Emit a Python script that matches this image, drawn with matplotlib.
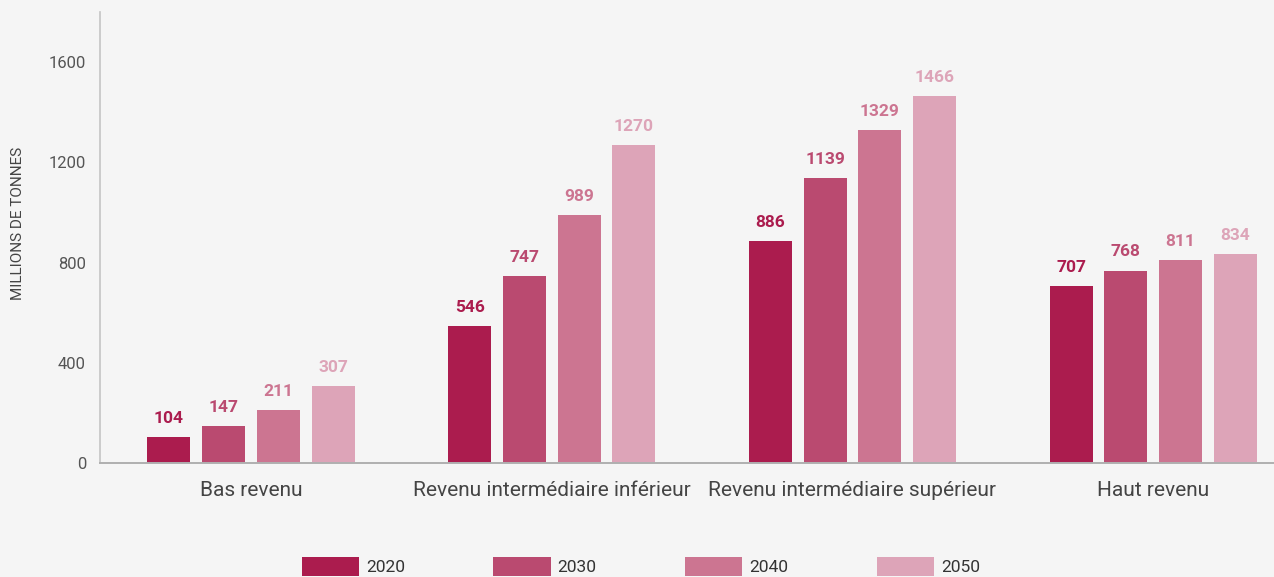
import matplotlib
matplotlib.use('Agg')
import matplotlib.pyplot as plt
from matplotlib.patches import Patch
import numpy as np

plt.rcParams['font.family'] = ['Roboto', 'DejaVu Sans']

categories = ['Bas revenu', 'Revenu intermédiaire inférieur',
              'Revenu intermédiaire supérieur', 'Haut revenu']
years = ['2020', '2030', '2040', '2050']
v2020 = [104, 546, 886, 707]
v2030 = [147, 747, 1139, 768]
v2040 = [211, 989, 1329, 811]
v2050 = [307, 1270, 1466, 834]
yticks = [0, 400, 800, 1200, 1600]

colors = ['#ab1c4e', '#ba4a70', '#cc7591', '#dda4b8']
BG = '#f5f5f5'

fig = plt.figure(figsize=(12.74, 5.77), dpi=100, facecolor=BG)
ax = fig.add_axes([0.0785, 0.1976, 0.9215, 0.7816], facecolor=BG)

x = np.arange(len(categories))
width = 0.143
pitch = 0.182
series = [v2020, v2030, v2040, v2050]
for i, (vals, col) in enumerate(zip(series, colors)):
    pos = x + (i - 1.5) * pitch
    ax.bar(pos, vals, width, color=col, zorder=2)
    for xp, v in zip(pos, vals):
        ax.annotate(f'{v}', (xp, v), xytext=(0, 8), textcoords='offset points',
                    ha='center', va='bottom', fontsize=12.5, fontweight='bold', color=col)

ax.set_xlim(-0.502, 3.402)
ax.set_ylim(0, 1800)
ax.set_yticks(yticks)
ax.set_yticklabels([str(t) for t in yticks])
ax.set_xticks(x)
ax.set_xticklabels(categories)
ax.tick_params(axis='y', length=0, pad=10, labelsize=12, labelcolor='#555555')
ax.tick_params(axis='x', length=0, pad=13, labelsize=15, labelcolor='#444444')

for side in ['top', 'right']:
    ax.spines[side].set_visible(False)
ax.spines['left'].set_color('#c4c4c4')
ax.spines['bottom'].set_color('#b0b0b0')
ax.spines['left'].set_linewidth(1.2)
ax.spines['bottom'].set_linewidth(1.4)

fig.text(18 / 1274, 1 - 223 / 577, 'MILLIONS DE TONNES', rotation=90,
         ha='center', va='center', fontsize=11, color='#444444')

handles = [Patch(facecolor=c, edgecolor='none') for c in colors]
fig.legend(handles, years, loc='center', bbox_to_anchor=(0.503, 0.018), ncol=4,
           frameon=False, fontsize=12.5, handlelength=3.3, handleheight=1.3,
           columnspacing=5.1, handletextpad=0.4, labelcolor='#333333')

fig.savefig('out.png', dpi=100, facecolor=BG)
